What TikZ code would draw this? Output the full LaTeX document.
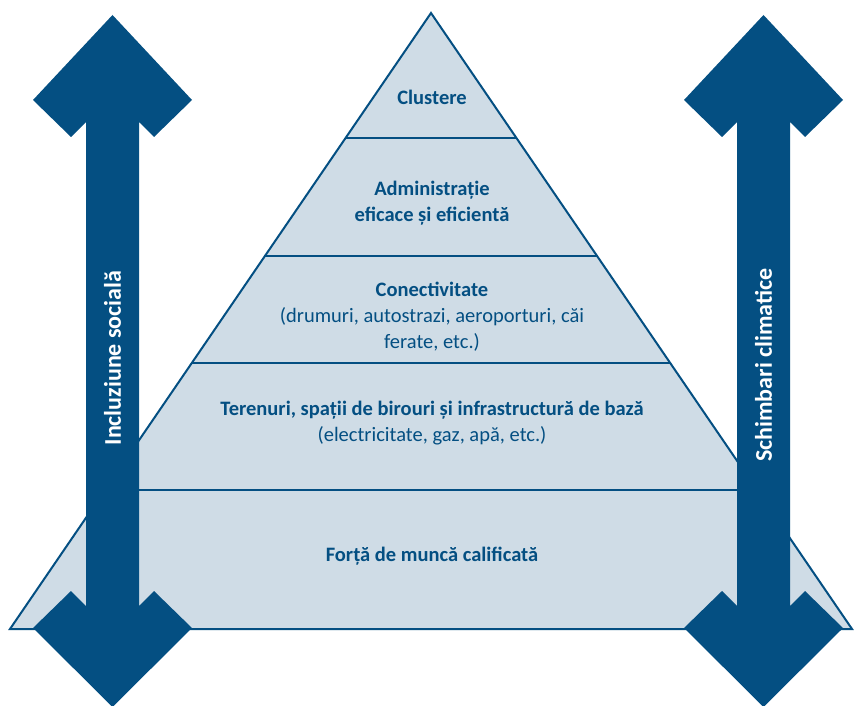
\documentclass[tikz,border=0pt]{standalone}
\usepackage{fontspec}
\setmainfont{Carlito}
\definecolor{navy}{RGB}{4,79,130}
\definecolor{paleblue}{RGB}{207,220,230}
\tikzset{
  level/.style={text=navy, align=center, font=\fontsize{20.5}{26}\selectfont},
  axislabel/.style={text=white, rotate=90, font=\bfseries\fontsize{24}{26}\selectfont},
  bigarrow/.style={fill=navy},
}
\begin{document}
\begin{tikzpicture}[x=1pt,y=-1pt]
  \useasboundingbox (0,0) rectangle (859,706);

  % Pyramid
  \coordinate (apex) at (431,13);
  \coordinate (baseL) at (10,629);
  \coordinate (baseR) at (852,629);
  \fill[paleblue] (apex) -- (baseL) -- (baseR) -- cycle;
  \begin{scope}
    \clip (apex) -- (baseL) -- (baseR) -- cycle;
    \foreach \y in {138,256,363,490}
      \draw[navy,line width=2pt] (0,\y) -- (859,\y);
  \end{scope}
  \draw[navy,line width=2pt,line join=miter] (apex) -- (baseL) -- (baseR) -- cycle;

  % Left double arrow
  \begin{scope}[shift={(112.5,0)}]
    \fill[bigarrow] (0,15) -- (79.5,100) -- (41.5,137) -- (26.5,122) -- (26.5,606)
      -- (41.5,591) -- (79.5,628) -- (0,707) -- (-79.5,628) -- (-41.5,591)
      -- (-26.5,606) -- (-26.5,122) -- (-41.5,137) -- (-79.5,100) -- cycle;
    \node[axislabel] (social) at (0,358) {Incluziune socială};
  \end{scope}

  % Right double arrow
  \begin{scope}[shift={(763.5,0)}]
    \fill[bigarrow] (0,15) -- (79.5,100) -- (41.5,137) -- (26.5,122) -- (26.5,606)
      -- (41.5,591) -- (79.5,628) -- (0,707) -- (-79.5,628) -- (-41.5,591)
      -- (-26.5,606) -- (-26.5,122) -- (-41.5,137) -- (-79.5,100) -- cycle;
    \node[axislabel] (climate) at (0,365) {Schimbari climatice};
  \end{scope}

  % Levels
  \node[level] (clusters) at (432,97) {\textbf{Clustere}};
  \node[level] (admin) at (432,203) {\textbf{Administrație}\\\textbf{eficace și eficientă}};
  \node[level] (connect) at (432,317) {\textbf{Conectivitate}\\(drumuri, autostrazi, aeroporturi, căi\\ferate, etc.)};
  \node[level] (land) at (432,423.5) {\textbf{Terenuri, spații de birouri și infrastructură de bază}\\(electricitate, gaz, apă, etc.)};
  \node[level] (labour) at (432,556) {\textbf{Forță de muncă calificată}};
\end{tikzpicture}
\end{document}
